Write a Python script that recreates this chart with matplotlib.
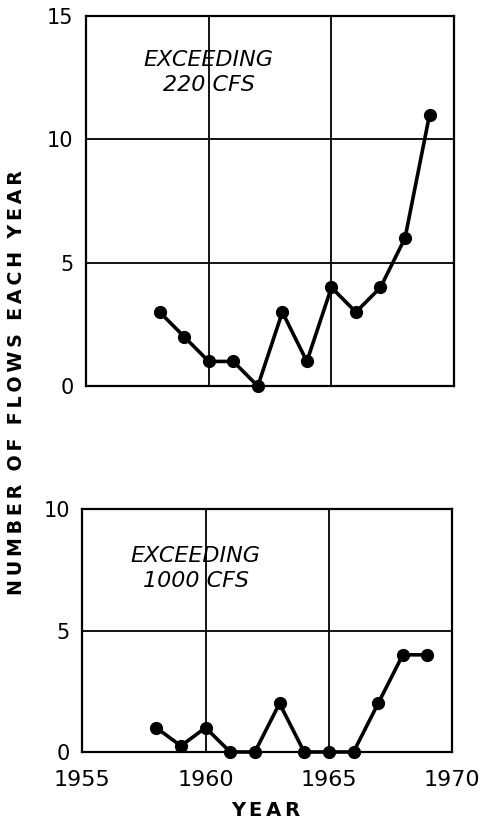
import numpy as np
import matplotlib
matplotlib.use("Agg")
import matplotlib.pyplot as plt

# valeurs
years = [1958, 1959, 1960, 1961, 1962, 1963, 1964, 1965, 1966, 1967, 1968, 1969]
flows_220 = [3, 2, 1, 1, 0, 3, 1, 4, 3, 4, 6, 11]
flows_1000 = [1, 0.25, 1, 0, 0, 2, 0, 0, 0, 2, 4, 4]
year_ticks = [1955, 1960, 1965, 1970]

plt.rcParams["font.family"] = ["DejaVu Sans"]


def spaced(txt):
    # espace fine entre les lettres, espace normal entre les mots
    return "  ".join("\u2009".join(w) for w in txt.split())


fig = plt.figure(figsize=(4.81, 8.25), dpi=100)
ax1 = fig.add_axes([0.179, 0.532, 0.765, 0.4485])
ax2 = fig.add_axes([0.171, 0.0885, 0.769, 0.2945])

for ax, vals, top in [(ax1, flows_220, 15), (ax2, flows_1000, 10)]:
    ax.plot(years, vals, color="black", lw=2.6, marker="o", ms=8.5, clip_on=False, zorder=3)
    ax.set_xlim(1955, 1970)
    ax.set_ylim(0, top)
    ax.set_yticks(np.arange(0, top + 1, 5))
    for x in [1960, 1965]:
        ax.axvline(x, color="black", lw=1.3)
    for y in np.arange(5, top, 5):
        ax.axhline(y, color="black", lw=1.3)
    for s in ax.spines.values():
        s.set_linewidth(1.6)
    ax.tick_params(length=0, labelsize=15, pad=9)

ax1.set_xticks([])
ax2.set_xticks(year_ticks)
ax2.tick_params(axis="x", pad=13, labelsize=16)

ax1.text(1960, 12.7, "EXCEEDING\n220 CFS", ha="center", va="center",
         fontsize=16, style="italic", linespacing=1.3)
ax2.text(1959.6, 7.55, "EXCEEDING\n1000 CFS", ha="center", va="center",
         fontsize=16, style="italic", linespacing=1.3)

fig.text(0.035, 0.536, spaced("NUMBER OF FLOWS EACH YEAR"), rotation=90,
         ha="center", va="center", fontsize=13.7, fontweight="bold")
fig.text(0.553, 0.017, spaced("YEAR"), ha="center", va="center", fontsize=14, fontweight="bold")

fig.savefig("out.png", dpi=100, facecolor="white")
